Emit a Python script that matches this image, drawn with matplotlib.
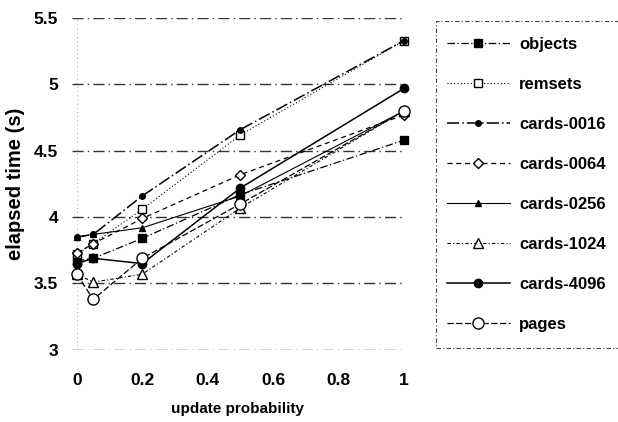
import matplotlib
matplotlib.use("Agg")
import matplotlib.pyplot as plt
from matplotlib.patches import Rectangle

plt.rcParams['font.family'] = ['Liberation Sans', 'DejaVu Sans']
plt.rcParams['font.weight'] = 'bold'

x = [0, 0.05, 0.2, 0.5, 1]
objects   = [3.67, 3.69, 3.84, 4.17, 4.58]
remsets   = [3.72, 3.80, 4.06, 4.62, 5.33]
cards0016 = [3.85, 3.87, 4.16, 4.66, 5.33]
cards0064 = [3.73, 3.80, 3.99, 4.32, 4.77]
cards0256 = [3.85, 3.87, 3.92, 4.16, 4.80]
cards1024 = [3.57, 3.51, 3.57, 4.07, 4.80]
cards4096 = [3.65, 3.69, 3.65, 4.22, 4.97]
pages     = [3.57, 3.38, 3.69, 4.10, 4.80]

names = ['objects', 'remsets', 'cards-0016', 'cards-0064', 'cards-0256',
         'cards-1024', 'cards-4096', 'pages']
series = [objects, remsets, cards0016, cards0064, cards0256, cards1024, cards4096, pages]
yticks = [3, 3.5, 4, 4.5, 5, 5.5]
xticks = [0, 0.2, 0.4, 0.6, 0.8, 1]

styles = [
    dict(marker='s', ms=6, mfc='black', ls=(0, (6, 2, 1, 2)), lw=0.9),
    dict(marker='s', ms=6, mfc='white', ls=(0, (1, 2)), lw=0.8),
    dict(marker='o', ms=4, mfc='black', ls=(0, (8, 2, 1, 2)), lw=1.1),
    dict(marker='D', ms=5, mfc='white', ls=(0, (4, 3)), lw=0.9),
    dict(marker='^', ms=4.5, mfc='black', ls='-', lw=0.8),
    dict(marker='^', ms=7, mfc='white', ls=(0, (3, 2, 1, 2)), lw=0.8),
    dict(marker='o', ms=6, mfc='black', ls='-', lw=1.1),
    dict(marker='o', ms=8, mfc='white', ls=(0, (5, 2)), lw=0.9),
]

fig = plt.figure(figsize=(6.18, 4.22), dpi=100)
ax = fig.add_axes([0.1165, 0.171, 0.537, 0.786])

for yt in yticks:
    ax.axhline(yt, color='#333333', lw=1.0, ls=(0, (8, 3, 1, 3)), zorder=1)
ax.axvline(0, color='#888888', lw=0.6, ls=(0, (1, 4)), zorder=1)

handles = []
for name, ys, st in zip(names, series, styles):
    ln, = ax.plot(x, ys, color='black', mec='black', mew=1.0, clip_on=False,
                  zorder=3, label=name, **st)
    handles.append(ln)

ax.set_xlim(-0.015, 1.0)
ax.set_ylim(3, 5.5)
ax.set_xticks(xticks)
ax.set_xticklabels(['0', '0.2', '0.4', '0.6', '0.8', '1'])
ax.set_yticks(yticks)
ax.set_yticklabels(['3', '3.5', '4', '4.5', '5', '5.5'])
ax.tick_params(axis='both', length=0, labelsize=12.5)
ax.tick_params(axis='x', pad=16.5)
ax.tick_params(axis='y', pad=10)
for s in ax.spines.values():
    s.set_visible(False)

ax.set_xlabel('update probability', fontsize=11, fontweight='bold', labelpad=10.5)
ax.set_ylabel('elapsed time (s)', fontsize=14.5, fontweight='bold', labelpad=6)

leg = fig.legend(handles=handles, loc='upper left', bbox_to_anchor=(0.723, 0.913),
                 fontsize=12, numpoints=1, handlelength=3.8, handletextpad=0.55,
                 labelspacing=1.50, borderpad=0.0, frameon=False,
                 borderaxespad=0)

W, H = 618, 422
box = Rectangle((436 / W, (H - 348) / H), (640 - 436) / W, (348 - 21) / H,
                transform=fig.transFigure, fill=False, edgecolor='#444444',
                lw=0.8, ls=(0, (4, 2, 1, 2)), clip_on=False)
fig.patches.append(box)

fig.savefig('out.png', dpi=100)
